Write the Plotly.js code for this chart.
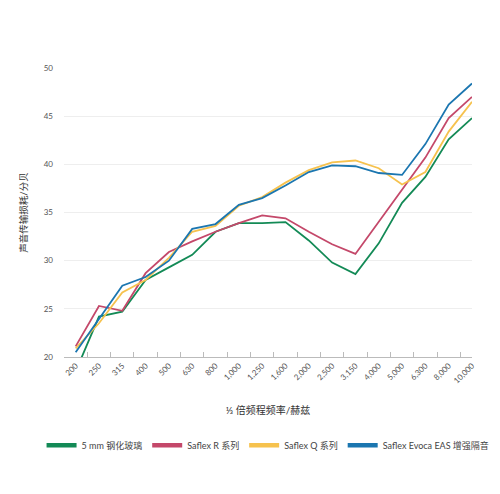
<!DOCTYPE html>
<html>
<head>
<meta charset="utf-8">
<script src="https://cdn.plot.ly/plotly-3.0.1.min.js"></script>
<style>html,body{margin:0;padding:0;background:#fff;}#chart{width:500px;height:494px;}</style>
</head>
<body>
<div id="chart"></div>
<script>
var categories = ["200","250","315","400","500","630","800","1,000","1,250","1,600","2,000","2,500","3,150","4,000","5,000","6,300","8,000","10,000"];
var glass5mm = [18.5,24.2,24.7,28.0,29.3,30.6,33.0,33.9,33.9,34.0,32.1,29.8,28.6,31.8,36.0,38.7,42.6,44.8];
var saflexR  = [21.1,25.3,24.8,28.7,30.9,32.0,33.0,33.9,34.7,34.4,33.0,31.7,30.7,34.0,37.4,40.7,44.8,47.0];
var saflexQ  = [20.9,23.5,26.7,28.0,30.3,33.0,33.6,35.7,36.6,38.1,39.4,40.2,40.4,39.6,37.9,39.2,43.4,46.5];
var evoca    = [20.5,24.0,27.4,28.3,30.0,33.3,33.8,35.8,36.5,37.8,39.2,39.9,39.8,39.1,38.9,42.1,46.2,48.4];
var seriesNames = ["5 mm 钢化玻璃","Saflex R 系列","Saflex Q 系列","Saflex Evoca EAS 增强隔音"];
var xTitle = "⅓ 倍频程频率/赫兹";
var yTitle = "声音传输损耗/分贝";

var colors = ["#138a56","#c4486a","#f6c24e","#1b76b0"];
var seriesData = [glass5mm, saflexR, saflexQ, evoca];
var FONT = "Lato, 'Noto Sans CJK SC', sans-serif";

var traces = [];
seriesData.forEach(function(vals, i){
  traces.push({
    type: "scatter", mode: "lines", x: categories, y: vals,
    name: seriesNames[i], legendgroup: "g"+i, showlegend: false,
    line: {color: colors[i], width: 1.8}, hoverinfo: "x+y+name"
  });
});
seriesData.forEach(function(vals, i){
  traces.push({
    type: "scatter", mode: "lines", x: [null], y: [null],
    name: seriesNames[i], legendgroup: "g"+i, showlegend: true,
    line: {color: colors[i], width: 4.5}
  });
});

var layout = {
  width: 500, height: 494,
  margin: {l: 64, r: 28, t: 68, b: 137, pad: 0},
  paper_bgcolor: "#fff", plot_bgcolor: "#fff",
  font: {family: FONT, size: 8, color: "#555"},
  showlegend: true,
  xaxis: {
    type: "category", categoryorder: "array", categoryarray: categories,
    range: [-0.5, 17],
    tickangle: -45, ticks: "inside", ticklen: 5, tickcolor: "#bbb", tickwidth: 1,
    tickson: "boundaries",
    showline: true, linecolor: "#bbb", linewidth: 1,
    showgrid: false, zeroline: false,
    tickfont: {family: FONT, size: 8, color: "#555"},
    automargin: false,
    title: {text: xTitle, font: {family: FONT, size: 10, color: "#333"}, standoff: 22}
  },
  yaxis: {
    range: [20, 50], dtick: 5, tick0: 20,
    showgrid: true, gridcolor: "#eeeeee", gridwidth: 1,
    zeroline: false, showline: false, ticks: "",
    tickfont: {family: FONT, size: 8, color: "#555"},
    ticklabelstandoff: 10,
    automargin: false,
    title: {text: yTitle, font: {family: FONT, size: 9.5, color: "#333"}, standoff: 14}
  },
  legend: {
    orientation: "h", x: -0.055, xanchor: "left", y: -0.305, yanchor: "middle",
    font: {family: FONT, size: 9, color: "#444"},
    bgcolor: "rgba(0,0,0,0)", itemclick: false, itemdoubleclick: false
  }
};

Plotly.newPlot("chart", traces, layout, {displayModeBar: false, staticPlot: true});
</script>
</body>
</html>
